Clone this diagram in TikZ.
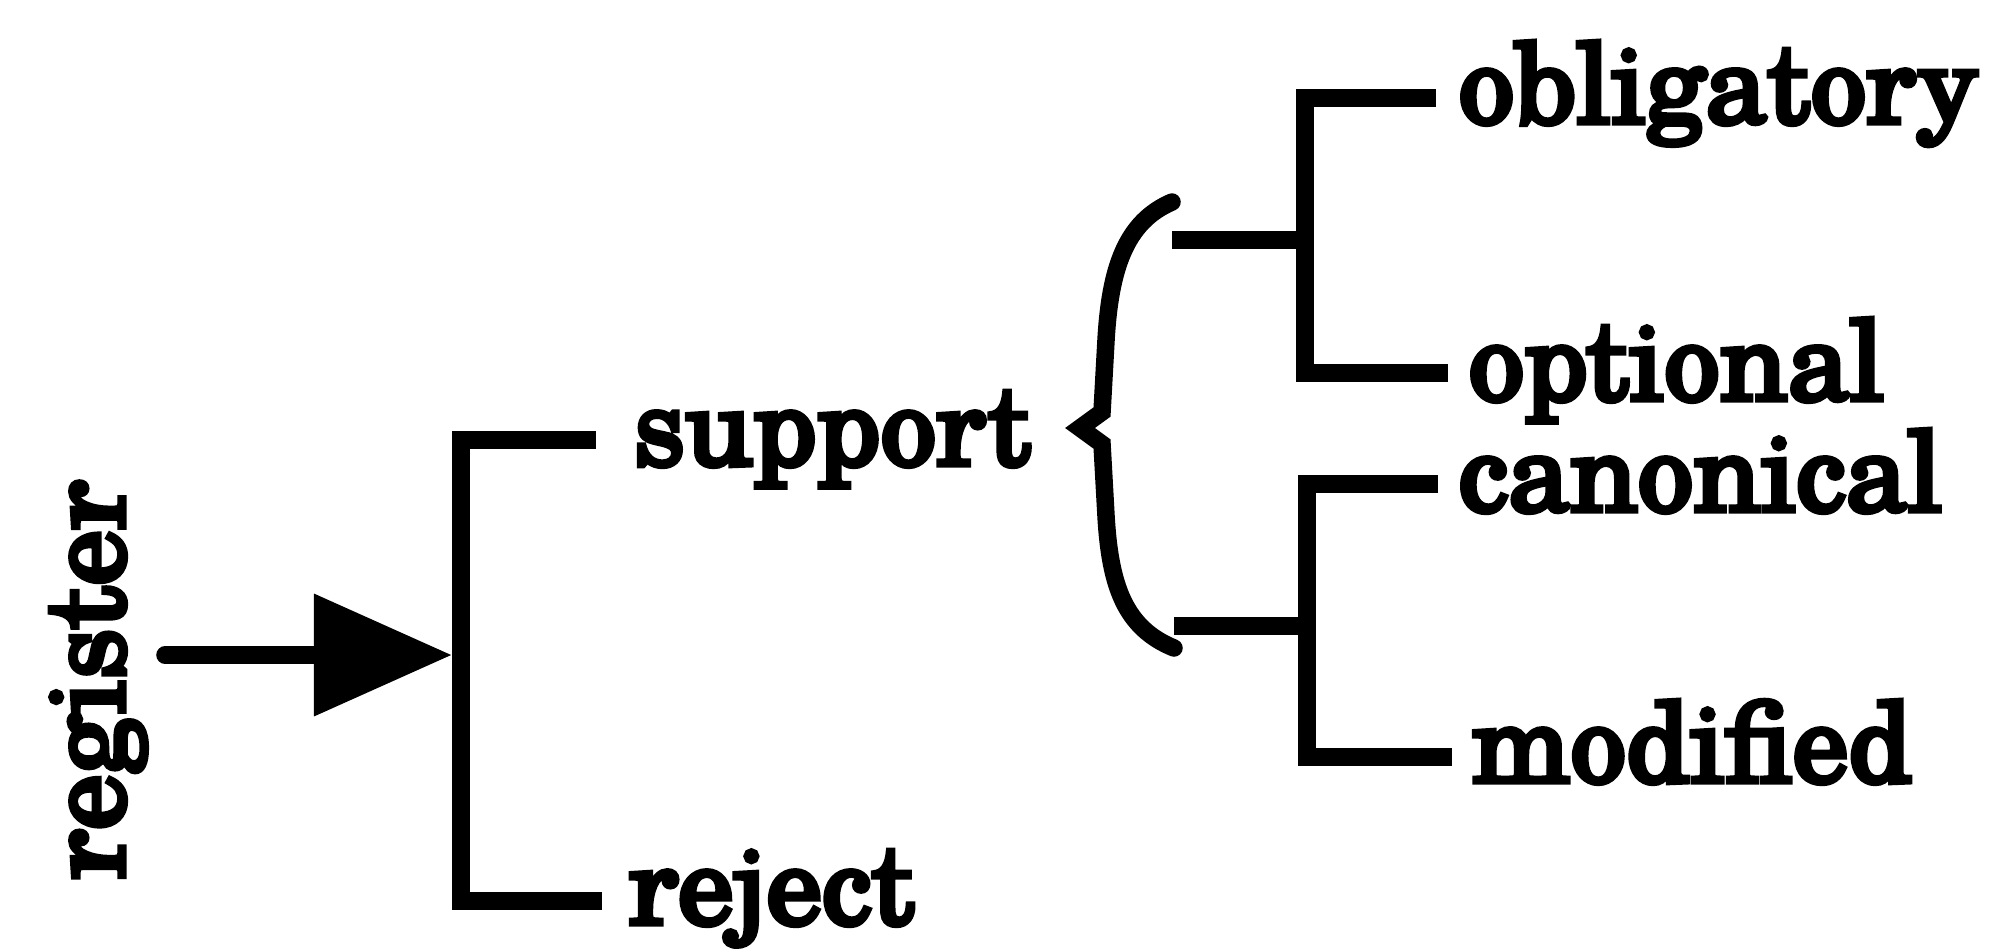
\documentclass[tikz,border=0pt]{standalone}
\usepackage{fontspec}
\newfontfamily\lblfont{TeX Gyre Schola}[FakeBold=4.5]
\usetikzlibrary{arrows.meta}

\begin{document}
\begin{tikzpicture}[x=0.01cm, y=-0.01cm,
  wire/.style={line width=0.175cm, line join=miter, line cap=butt},
  lbl/.style={font=\lblfont\fontsize{31.6}{38}\selectfont, inner sep=0pt, anchor=base west},
]
\useasboundingbox (0,0) rectangle (1995,948);

% rotated source label and the arrow into the first bracket
\node[lbl, rotate=90, anchor=base] (register) at (124,680) {register};
\coordinate (src) at (165,655);
\coordinate (jA) at (452,655);
\draw[wire, line cap=round, -{Triangle[length=1.38cm, width=1.18cm]}] (src) -- (jA);

% first bracket: support / reject
\coordinate (aTop) at (461,440);
\coordinate (aBot) at (461,901);
\coordinate (aTopEnd) at (596,440);
\coordinate (aBotEnd) at (602,901);
\draw[wire] (aTopEnd) -- (aTop) -- (aBot) -- (aBotEnd);
\node[lbl] (support) at (633,465) {support};
\node[lbl] (reject) at (628,924) {reject};

% curly brace after "support", with a small spur pointing left
\coordinate (brTop) at (1172,202);
\coordinate (brTip) at (1080,428);
\coordinate (brBot) at (1174,648);
\draw[wire, line cap=round] (brTop) .. controls (1125,222) and (1110,270) .. (1106,340)
  -- (1102,412) -- (brTip) -- (1102,444) -- (1106,516)
  .. controls (1110,586) and (1125,628) .. (brBot);

% upper sub-bracket: obligatory / optional
\coordinate (bStub) at (1172,240);
\coordinate (bMid) at (1305,240);
\coordinate (bTop) at (1305,98);
\coordinate (bBot) at (1305,373);
\coordinate (bTopEnd) at (1436,98);
\coordinate (bBotEnd) at (1448,373);
\draw[wire] (bStub) -- (bMid);
\draw[wire] (bTopEnd) -- (bTop) -- (bBot) -- (bBotEnd);
\node[lbl] (obligatory) at (1458,123) {obligatory};
\node[lbl] (optional) at (1468,400) {optional};

% lower sub-bracket: canonical / modified
\coordinate (cStub) at (1174,626);
\coordinate (cMid) at (1307,626);
\coordinate (cTop) at (1307,484);
\coordinate (cBot) at (1307,757);
\coordinate (cTopEnd) at (1438,484);
\coordinate (cBotEnd) at (1452,757);
\draw[wire] (cStub) -- (cMid);
\draw[wire] (cTopEnd) -- (cTop) -- (cBot) -- (cBotEnd);
\node[lbl] (canonical) at (1458,511) {canonical};
\node[lbl] (modified) at (1471,782) {modified};
\end{tikzpicture}
\end{document}
